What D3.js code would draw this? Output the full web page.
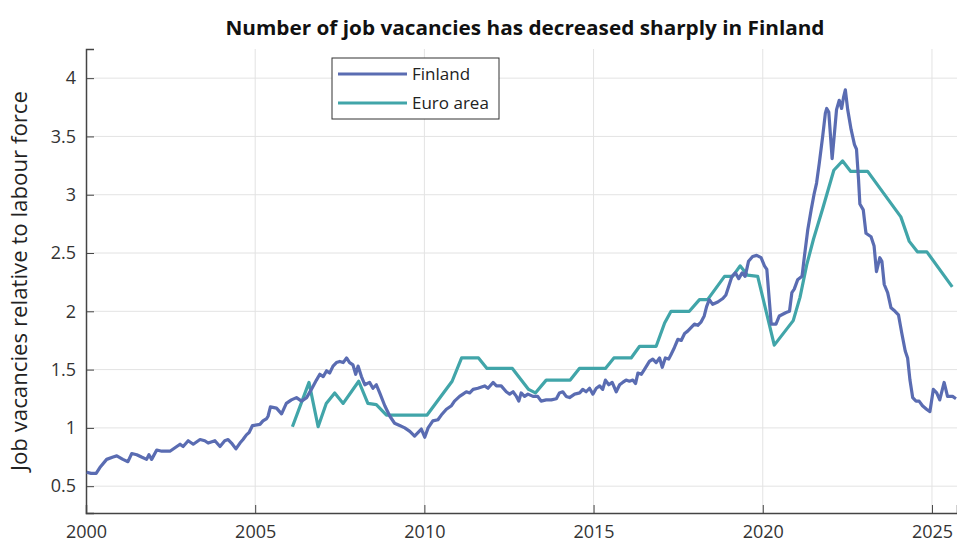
<!DOCTYPE html>
<html lang="en">
<head>
    <meta charset="UTF-8">
    <title>Job vacancies</title>
    <script src="https://d3js.org/d3.v7.min.js"></script>
    <style>
        body { margin: 0; background: #fff; }
        text { font-family: "Open Sans", sans-serif; }
    </style>
</head>
<body>
<script>
    var w = 957; // svg width
    var h = 546; // svg height
    var margin = { top: 49, right: 0, bottom: 33, left: 86 };

    // Finland, decimal years and values
    var finlandYears = [2000.02, 2000.15, 2000.3, 2000.41, 2000.61, 2000.8, 2000.91, 2001.09, 2001.24, 2001.35,
        2001.5, 2001.64, 2001.79, 2001.86, 2001.94, 2002.09, 2002.24, 2002.48, 2002.63, 2002.78,
        2002.87, 2003.02, 2003.17, 2003.37, 2003.51, 2003.61, 2003.81, 2003.96, 2004.1, 2004.2,
        2004.3, 2004.43, 2004.55, 2004.64, 2004.74, 2004.82, 2004.92, 2005.14, 2005.23, 2005.34,
        2005.38, 2005.45, 2005.63, 2005.78, 2005.92, 2006.07, 2006.22, 2006.37, 2006.52, 2006.66,
        2006.81, 2006.91, 2007.01, 2007.11, 2007.2, 2007.3, 2007.4, 2007.5, 2007.6, 2007.7,
        2007.79, 2007.89, 2007.97, 2008.04, 2008.14, 2008.24, 2008.38, 2008.48, 2008.58, 2008.68,
        2008.83, 2008.98, 2009.12, 2009.27, 2009.42, 2009.57, 2009.71, 2009.81, 2009.91, 2010.01,
        2010.11, 2010.25, 2010.4, 2010.5, 2010.65, 2010.8, 2010.89, 2011.04, 2011.14, 2011.24,
        2011.34, 2011.44, 2011.58, 2011.78, 2011.88, 2012.03, 2012.13, 2012.27, 2012.42, 2012.52,
        2012.62, 2012.72, 2012.79, 2012.86, 2012.96, 2013.06, 2013.21, 2013.35, 2013.45, 2013.6,
        2013.75, 2013.9, 2013.99, 2014.09, 2014.19, 2014.29, 2014.44, 2014.59, 2014.68, 2014.78,
        2014.88, 2014.98, 2015.08, 2015.18, 2015.27, 2015.35, 2015.45, 2015.55, 2015.67, 2015.77,
        2015.86, 2015.96, 2016.06, 2016.16, 2016.24, 2016.31, 2016.41, 2016.5, 2016.65, 2016.75,
        2016.85, 2016.95, 2017.03, 2017.12, 2017.22, 2017.29, 2017.39, 2017.49, 2017.59, 2017.69,
        2017.78, 2017.88, 2017.98, 2018.08, 2018.18, 2018.27, 2018.34, 2018.42, 2018.52, 2018.67,
        2018.82, 2018.91, 2018.99, 2019.09, 2019.19, 2019.29, 2019.39, 2019.48, 2019.58, 2019.7,
        2019.82, 2019.95, 2020.05, 2020.12, 2020.2, 2020.25, 2020.39, 2020.49, 2020.69, 2020.79,
        2020.86, 2020.93, 2021.03, 2021.16, 2021.23, 2021.33, 2021.43, 2021.52, 2021.59, 2021.67,
        2021.77, 2021.85, 2021.89, 2021.95, 2022.05, 2022.11, 2022.18, 2022.26, 2022.33, 2022.39,
        2022.44, 2022.51, 2022.61, 2022.71, 2022.77, 2022.83, 2022.87, 2022.97, 2023.05, 2023.2,
        2023.29, 2023.36, 2023.46, 2023.52, 2023.59, 2023.69, 2023.79, 2023.91, 2024.01, 2024.11,
        2024.21, 2024.28, 2024.35, 2024.43, 2024.53, 2024.62, 2024.72, 2024.84, 2024.94, 2025.04,
        2025.14, 2025.23, 2025.36, 2025.46, 2025.61, 2025.71];
    var finlandValues = [0.62, 0.61, 0.61, 0.66, 0.73, 0.75, 0.76, 0.73, 0.71, 0.78,
        0.77, 0.75, 0.73, 0.77, 0.73, 0.81, 0.80, 0.80, 0.83, 0.86,
        0.84, 0.89, 0.86, 0.90, 0.89, 0.87, 0.89, 0.84, 0.89, 0.90,
        0.87, 0.82, 0.87, 0.90, 0.94, 0.96, 1.02, 1.03, 1.06, 1.08,
        1.10, 1.18, 1.17, 1.12, 1.21, 1.24, 1.26, 1.23, 1.26, 1.33,
        1.41, 1.46, 1.44, 1.49, 1.47, 1.53, 1.56, 1.57, 1.56, 1.60,
        1.56, 1.54, 1.46, 1.53, 1.44, 1.37, 1.39, 1.34, 1.37, 1.30,
        1.19, 1.10, 1.04, 1.02, 1.00, 0.97, 0.93, 0.96, 0.99, 0.92,
        1.00, 1.06, 1.07, 1.11, 1.16, 1.19, 1.23, 1.27, 1.29, 1.31,
        1.30, 1.33, 1.34, 1.36, 1.34, 1.39, 1.36, 1.36, 1.31, 1.29,
        1.31, 1.27, 1.23, 1.30, 1.27, 1.29, 1.27, 1.27, 1.23, 1.24,
        1.24, 1.25, 1.30, 1.31, 1.27, 1.26, 1.29, 1.30, 1.33, 1.31,
        1.34, 1.29, 1.34, 1.36, 1.33, 1.41, 1.37, 1.39, 1.31, 1.37,
        1.39, 1.41, 1.40, 1.41, 1.38, 1.47, 1.46, 1.50, 1.57, 1.59,
        1.56, 1.60, 1.52, 1.60, 1.59, 1.63, 1.69, 1.76, 1.75, 1.81,
        1.83, 1.86, 1.89, 1.88, 1.91, 1.96, 2.04, 2.10, 2.06, 2.08,
        2.11, 2.14, 2.21, 2.30, 2.33, 2.28, 2.33, 2.30, 2.43, 2.47,
        2.48, 2.46, 2.39, 2.36, 2.07, 1.89, 1.89, 1.96, 1.99, 2.00,
        2.16, 2.19, 2.27, 2.30, 2.47, 2.70, 2.87, 3.01, 3.10, 3.27,
        3.50, 3.70, 3.74, 3.71, 3.31, 3.50, 3.73, 3.81, 3.74, 3.84,
        3.90, 3.73, 3.56, 3.43, 3.39, 3.13, 2.92, 2.87, 2.67, 2.64,
        2.56, 2.34, 2.46, 2.43, 2.23, 2.16, 2.03, 2.00, 1.97, 1.81,
        1.66, 1.60, 1.41, 1.26, 1.23, 1.23, 1.19, 1.16, 1.14, 1.33,
        1.30, 1.24, 1.39, 1.27, 1.27, 1.25];

    // Euro area
    var euroYears = [2006.1, 2006.59, 2006.86, 2007.1, 2007.35, 2007.6, 2008.06, 2008.33, 2008.58, 2008.88,
        2010.08, 2010.82, 2011.1, 2011.6, 2011.85, 2012.6, 2013.08, 2013.28, 2013.6, 2014.31,
        2014.58, 2015.35, 2015.6, 2016.11, 2016.36, 2016.85, 2017.1, 2017.29, 2017.83, 2018.13,
        2018.37, 2018.87, 2019.11, 2019.33, 2019.55, 2019.85, 2020.34, 2020.9, 2021.1, 2021.3,
        2021.5, 2021.77, 2022.1, 2022.36, 2022.6, 2023.1, 2024.08, 2024.33, 2024.57, 2024.85,
        2025.6];
    var euroValues = [1.01, 1.39, 1.01, 1.21, 1.30, 1.21, 1.40, 1.21, 1.20, 1.11,
        1.11, 1.40, 1.60, 1.60, 1.51, 1.51, 1.33, 1.30, 1.41, 1.41,
        1.51, 1.51, 1.60, 1.60, 1.70, 1.70, 1.90, 2.00, 2.00, 2.10,
        2.10, 2.30, 2.30, 2.39, 2.31, 2.30, 1.71, 1.92, 2.12, 2.40,
        2.62, 2.88, 3.21, 3.29, 3.20, 3.20, 2.81, 2.60, 2.51, 2.51,
        2.21];

    var xTicks = [2000, 2005, 2010, 2015, 2020, 2025];
    var yTicks = [0.5, 1, 1.5, 2, 2.5, 3, 3.5, 4];

    var finlandColor = "#5a6cb2";
    var euroColor = "#41a5a9";

    var xScale = d3.scaleLinear()
        .domain([2000, 2025.74])
        .range([margin.left, w - margin.right]);

    var yScale = d3.scaleLinear()
        .domain([0.27, 4.25])
        .range([h - margin.bottom, margin.top]);

    var svg = d3.select("body")
        .append("svg")
        .attr("width", w)
        .attr("height", h);

    // grid lines
    svg.append("g")
        .selectAll("line.gy")
        .data(yTicks)
        .enter()
        .append("line")
        .attr("x1", margin.left)
        .attr("x2", w - margin.right)
        .attr("y1", function (d) { return yScale(d); })
        .attr("y2", function (d) { return yScale(d); })
        .attr("stroke", "#e3e3e3")
        .attr("stroke-width", 1);

    svg.append("g")
        .selectAll("line.gx")
        .data(xTicks.slice(1))
        .enter()
        .append("line")
        .attr("x1", function (d) { return xScale(d); })
        .attr("x2", function (d) { return xScale(d); })
        .attr("y1", margin.top)
        .attr("y2", h - margin.bottom)
        .attr("stroke", "#e3e3e3")
        .attr("stroke-width", 1);

    // axes, ticks pointing inward
    var xAxis = d3.axisTop(xScale)
        .tickValues(xTicks)
        .tickSize(8)
        .tickFormat(d3.format("d"));

    var gx = svg.append("g")
        .attr("transform", "translate(0," + (h - margin.bottom) + ")")
        .call(xAxis);
    gx.select(".domain").attr("stroke", "#444").attr("stroke-width", 1.5);
    gx.selectAll(".tick line").attr("stroke", "#444");
    gx.selectAll(".tick text")
        .attr("y", 25)
        .attr("font-size", "18px")
        .attr("fill", "#333");

    var yAxis = d3.axisRight(yScale)
        .tickValues(yTicks)
        .tickSize(8)
        .tickFormat(d3.format(""));

    var gy = svg.append("g")
        .attr("transform", "translate(" + margin.left + ",0)")
        .call(yAxis);
    gy.select(".domain").attr("stroke", "#444").attr("stroke-width", 1.5);
    gy.selectAll(".tick line").attr("stroke", "#444");
    gy.selectAll(".tick text")
        .attr("x", -10)
        .attr("text-anchor", "end")
        .attr("font-size", "18px")
        .attr("fill", "#333");

    // lines
    var line = d3.line()
        .x(function (d) { return xScale(d[0]); })
        .y(function (d) { return yScale(d[1]); });

    svg.append("clipPath").attr("id", "plot")
        .append("rect")
        .attr("x", margin.left)
        .attr("y", margin.top)
        .attr("width", w - margin.left - margin.right)
        .attr("height", h - margin.top - margin.bottom);

    svg.append("path")
        .datum(d3.zip(euroYears, euroValues))
        .attr("d", line)
        .attr("clip-path", "url(#plot)")
        .attr("fill", "none")
        .attr("stroke", euroColor)
        .attr("stroke-width", 3.2)
        .attr("stroke-linejoin", "round");

    svg.append("path")
        .datum(d3.zip(finlandYears, finlandValues))
        .attr("d", line)
        .attr("clip-path", "url(#plot)")
        .attr("fill", "none")
        .attr("stroke", finlandColor)
        .attr("stroke-width", 3.2)
        .attr("stroke-linejoin", "round");

    // title
    svg.append("text")
        .attr("x", 525)
        .attr("y", 35)
        .attr("text-anchor", "middle")
        .attr("font-size", "19px")
        .attr("font-weight", "bold")
        .attr("fill", "#111")
        .attr("textLength", 599)
        .attr("lengthAdjust", "spacingAndGlyphs")
        .text("Number of job vacancies has decreased sharply in Finland");

    // y label
    svg.append("text")
        .attr("transform", "translate(27,281) rotate(-90)")
        .attr("text-anchor", "middle")
        .attr("font-size", "21px")
        .attr("fill", "#222")
        .attr("textLength", 380)
        .attr("lengthAdjust", "spacingAndGlyphs")
        .text("Job vacancies relative to labour force");

    // legend
    var legend = svg.append("g");
    legend.append("rect")
        .attr("x", 332)
        .attr("y", 58)
        .attr("width", 167)
        .attr("height", 61)
        .attr("fill", "#fff")
        .attr("stroke", "#333")
        .attr("stroke-width", 1);

    var legendItems = [["Finland", finlandColor], ["Euro area", euroColor]];
    legend.selectAll("line")
        .data(legendItems)
        .enter()
        .append("line")
        .attr("x1", 338)
        .attr("x2", 407)
        .attr("y1", function (d, i) { return 74 + i * 29; })
        .attr("y2", function (d, i) { return 74 + i * 29; })
        .attr("stroke", function (d) { return d[1]; })
        .attr("stroke-width", 3);

    legend.selectAll("text")
        .data(legendItems)
        .enter()
        .append("text")
        .attr("x", 412)
        .attr("y", function (d, i) { return 80 + i * 29; })
        .attr("font-size", "17px")
        .attr("fill", "#222")
        .text(function (d) { return d[0]; });
</script>
</body>
</html>
